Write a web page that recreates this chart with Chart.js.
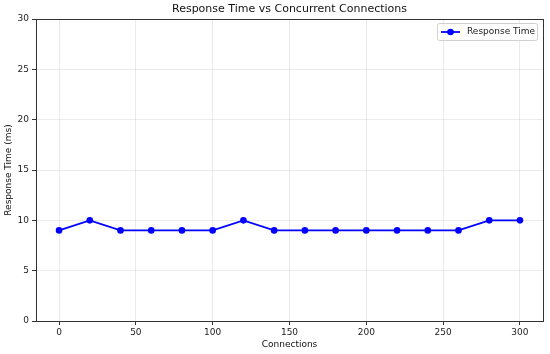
<!DOCTYPE html>
<html>
<head>
<meta charset="utf-8">
<script src="https://cdn.jsdelivr.net/npm/chart.js@4/dist/chart.umd.min.js"></script>
<style>
html,body{margin:0;padding:0;background:#fff;}
canvas{display:block;}
</style>
</head>
<body>
<canvas id="c" width="550" height="354"></canvas>
<script>
const connections = [0, 20, 40, 60, 80, 100, 120, 140, 160, 180, 200, 220, 240, 260, 280, 300];
const responseTime = [9, 10, 9, 9, 9, 9, 10, 9, 9, 9, 9, 9, 9, 9, 10, 10];
const xTicks = [0, 50, 100, 150, 200, 250, 300];
const yTicks = [0, 5, 10, 15, 20, 25, 30];
const seriesLabel = 'Response Time';
const titleText = 'Response Time vs Concurrent Connections';
const xTitle = 'Connections';
const yTitle = 'Response Time (ms)';

const FONT = 'DejaVu Sans';
const BLUE = '#0000ff';
const AXIS = '#333333';

const framePlugin = {
  id: 'frame',
  afterDraw(chart) {
    const ctx = chart.ctx, a = chart.chartArea;
    ctx.save();
    ctx.strokeStyle = AXIS;
    ctx.lineWidth = 1;
    ctx.strokeRect(Math.round(a.left) + 0.5, Math.round(a.top) + 0.5,
                   Math.round(a.right - a.left), Math.round(a.bottom - a.top));
    // title centred over the plot area
    ctx.fillStyle = '#111';
    ctx.font = '11px "' + FONT + '"';
    ctx.textAlign = 'center';
    ctx.textBaseline = 'middle';
    ctx.fillText(titleText, (a.left + a.right) / 2, a.top - 10);
    // legend
    const bx = a.right - 106, by = a.top + 4, bw = 100, bh = 17;
    ctx.fillStyle = 'rgba(255,255,255,0.8)';
    ctx.strokeStyle = '#d0d0d0';
    ctx.beginPath();
    if (ctx.roundRect) ctx.roundRect(bx + 0.5, by + 0.5, bw, bh, 2); else ctx.rect(bx + 0.5, by + 0.5, bw, bh);
    ctx.fill(); ctx.stroke();
    const ly = by + bh / 2 + 0.5;
    ctx.strokeStyle = BLUE; ctx.lineWidth = 1.8;
    ctx.beginPath(); ctx.moveTo(bx + 4, ly); ctx.lineTo(bx + 23, ly); ctx.stroke();
    ctx.fillStyle = BLUE;
    ctx.beginPath(); ctx.arc(bx + 13.5, ly, 3.3, 0, Math.PI * 2); ctx.fill();
    ctx.fillStyle = '#222';
    ctx.font = '9px "' + FONT + '"';
    ctx.textBaseline = 'middle';
    ctx.textAlign = 'left';
    ctx.fillText(seriesLabel, bx + 30, ly);
    ctx.restore();
  }
};

new Chart(document.getElementById('c'), {
  type: 'line',
  data: {
    datasets: [{
      label: seriesLabel,
      data: connections.map((x, i) => ({ x: x, y: responseTime[i] })),
      borderColor: BLUE,
      backgroundColor: BLUE,
      borderWidth: 1.8,
      pointRadius: 3.3,
      pointHoverRadius: 3.3,
      pointBorderWidth: 0,
      tension: 0,
      fill: false
    }]
  },
  options: {
    responsive: false,
    animation: false,
    devicePixelRatio: 1,
    layout: { padding: { left: 0, right: 7, top: 19, bottom: 0 } },
    plugins: {
      legend: { display: false },
      tooltip: { enabled: false },
      title: { display: false }
    },
    scales: {
      x: {
        type: 'linear',
        min: -15,
        max: 315,
        afterBuildTicks(scale) { scale.ticks = xTicks.map(v => ({ value: v })); },
        afterFit(scale) { scale.height = 33; },
        grid: { color: 'rgba(0,0,0,0.08)', tickColor: AXIS, tickLength: 4, drawTicks: true },
        border: { display: true, color: AXIS, width: 1 },
        ticks: { color: '#222', font: { family: FONT, size: 9 }, padding: 2, maxRotation: 0 },
        title: { display: true, text: xTitle, color: '#111', font: { family: FONT, size: 9 }, padding: { top: 0, bottom: 4 } }
      },
      y: {
        type: 'linear',
        min: 0,
        max: 30,
        afterBuildTicks(scale) { scale.ticks = yTicks.map(v => ({ value: v })); },
        afterFit(scale) { scale.width = 36; },
        grid: { color: 'rgba(0,0,0,0.08)', tickColor: AXIS, tickLength: 4, drawTicks: true },
        border: { display: true, color: AXIS, width: 1 },
        ticks: { color: '#222', font: { family: FONT, size: 9 }, padding: 3 },
        title: { display: true, text: yTitle, color: '#111', font: { family: FONT, size: 9 }, padding: { top: 3, bottom: 0 } }
      }
    }
  },
  plugins: [framePlugin]
});
</script>
</body>
</html>
